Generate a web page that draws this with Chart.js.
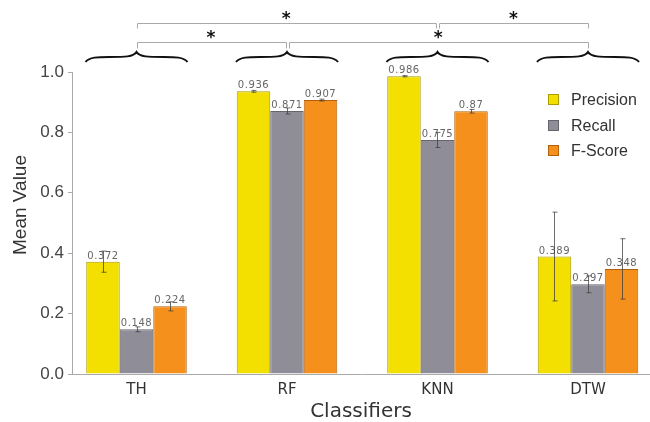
<!DOCTYPE html>
<html lang="en">
<head>
    <meta charset="UTF-8">
    <title>Classifiers - Mean Value</title>
    <script src="https://cdn.jsdelivr.net/npm/chart.js@4.4.0/dist/chart.umd.min.js"></script>
    <style>
        body { margin: 0; background: #fff; }
    </style>
</head>
<body>
<canvas id="barChart" width="650" height="422"></canvas>
<script>
    // data
    const classifiers = ['TH', 'RF', 'KNN', 'DTW'];
    const precision = [0.372, 0.936, 0.986, 0.389];
    const recall = [0.148, 0.871, 0.775, 0.297];
    const fScore = [0.224, 0.907, 0.87, 0.348];
    const precisionErr = [0.035, 0.003, 0.002, 0.147];
    const recallErr = [0.008, 0.01, 0.025, 0.028];
    const fScoreErr = [0.015, 0.003, 0.006, 0.1];
    const yTicks = [0, 0.2, 0.4, 0.6, 0.8, 1.0];
    // significance brackets: [from, to, row]
    const comparisons = [[0, 2, 0], [2, 3, 0], [0, 1, 1], [1, 3, 1]];

    const fills = ['#f3df00', '#8f8e98', '#f6901d'];
    const borders = ['#a99b00', '#66656c', '#b0600f'];
    const errors = [precisionErr, recallErr, fScoreErr];

    function points(arr) {
        return arr.map((v, i) => ({x: i, y: v}));
    }

    // annotations: value labels, error bars, braces, brackets, legend, y title
    const extras = {
        id: 'extras',
        afterDatasetsDraw(chart) {
            const ctx = chart.ctx;
            const xs = chart.scales.x;
            const ys = chart.scales.y;
            ctx.save();

            // value labels
            ctx.font = '10px "DejaVu Sans"';
            ctx.letterSpacing = '0.6px';
            ctx.fillStyle = '#666';
            ctx.textAlign = 'center';
            ctx.textBaseline = 'alphabetic';
            chart.data.datasets.forEach((ds, d) => {
                chart.getDatasetMeta(d).data.forEach((bar, i) => {
                    ctx.fillText(String(ds.data[i].y), bar.x, bar.y - 3);
                });
            });
            ctx.letterSpacing = '0px';

            // error bars
            ctx.strokeStyle = 'rgba(60,60,60,0.75)';
            ctx.lineWidth = 1;
            chart.data.datasets.forEach((ds, d) => {
                chart.getDatasetMeta(d).data.forEach((bar, i) => {
                    const v = ds.data[i].y, e = errors[d][i];
                    const x = Math.round(bar.x) + 0.5;
                    const y1 = ys.getPixelForValue(v + e);
                    const y2 = ys.getPixelForValue(v - e);
                    ctx.beginPath();
                    ctx.moveTo(x, y1);
                    ctx.lineTo(x, y2);
                    ctx.moveTo(x - 2, y1);
                    ctx.lineTo(x + 3, y1);
                    ctx.moveTo(x - 2, y2);
                    ctx.lineTo(x + 3, y2);
                    ctx.stroke();
                });
            });

            // curly braces over each group
            ctx.strokeStyle = '#111';
            ctx.lineWidth = 2;
            classifiers.forEach((c, i) => {
                const cx = xs.getPixelForValue(i);
                const x0 = cx - 51, x1 = cx + 51;
                const yb = 62, ym = 57, yt = 52;
                ctx.beginPath();
                ctx.moveTo(x0, yb);
                ctx.bezierCurveTo(x0 + 4, ym, x0 + 12, ym, x0 + 24, ym);
                ctx.bezierCurveTo(cx - 12, ym, cx - 3, ym, cx, yt);
                ctx.bezierCurveTo(cx + 3, ym, cx + 12, ym, x1 - 24, ym);
                ctx.bezierCurveTo(x1 - 12, ym, x1 - 4, ym, x1, yb);
                ctx.stroke();
            });

            // significance brackets
            const rowY = [23, 42];
            const rowDrop = [5, 6];
            ctx.strokeStyle = '#aaa';
            ctx.lineWidth = 1;
            ctx.fillStyle = '#111';
            ctx.font = 'bold 17px "DejaVu Sans"';
            comparisons.forEach(([a, b, r]) => {
                let xa = xs.getPixelForValue(a);
                let xb = xs.getPixelForValue(b);
                if (comparisons.some(o => o[2] === r && o[1] === a)) xa += 1.5;
                if (comparisons.some(o => o[2] === r && o[0] === b)) xb -= 1.5;
                const y = rowY[r] + 0.5;
                ctx.beginPath();
                ctx.moveTo(Math.round(xa) + 0.5, y + rowDrop[r]);
                ctx.lineTo(Math.round(xa) + 0.5, y);
                ctx.lineTo(Math.round(xb) + 0.5, y);
                ctx.lineTo(Math.round(xb) + 0.5, y + rowDrop[r]);
                ctx.stroke();
                const m = ctx.measureText('*');
                const cy = rowY[r] - 8;
                ctx.textBaseline = 'alphabetic';
                ctx.fillText('*', (xa + xb) / 2, cy + (m.actualBoundingBoxAscent - m.actualBoundingBoxDescent) / 2);
            });

            // legend
            const legendY = [100, 126, 151];
            ctx.font = '16px "Liberation Sans"';
            ctx.textAlign = 'left';
            ctx.textBaseline = 'middle';
            chart.data.datasets.forEach((ds, d) => {
                ctx.fillStyle = fills[d];
                ctx.fillRect(548, legendY[d] - 6, 11, 11);
                ctx.strokeStyle = borders[d];
                ctx.lineWidth = 1;
                ctx.strokeRect(548.5, legendY[d] - 5.5, 10, 10);
                ctx.fillStyle = '#333';
                ctx.fillText(ds.label, 571, legendY[d] + 1);
            });

            // y axis title
            ctx.translate(21, 205);
            ctx.rotate(-Math.PI / 2);
            ctx.textAlign = 'center';
            ctx.font = '19px "Liberation Sans"';
            ctx.fillStyle = '#333';
            ctx.fillText('Mean Value', 0, 0);
            ctx.restore();
        }
    };

    new Chart(document.getElementById('barChart').getContext('2d'), {
        type: 'bar',
        data: {
            datasets: [{
                label: 'Precision',
                data: points(precision),
                backgroundColor: fills[0],
                borderColor: borders[0],
                borderWidth: 1
            }, {
                label: 'Recall',
                data: points(recall),
                backgroundColor: fills[1],
                borderColor: borders[1],
                borderWidth: 1
            }, {
                label: 'F-Score',
                data: points(fScore),
                backgroundColor: fills[2],
                borderColor: borders[2],
                borderWidth: 1
            }]
        },
        options: {
            responsive: false,
            animation: false,
            devicePixelRatio: 1,
            layout: {padding: {top: 72, left: 0, right: 0, bottom: 0}},
            datasets: {
                bar: {barPercentage: 1, categoryPercentage: 0.668}
            },
            plugins: {
                legend: {display: false},
                tooltip: {enabled: false}
            },
            scales: {
                x: {
                    type: 'linear',
                    min: -0.4286,
                    max: 3.412,
                    offset: false,
                    grid: {display: false, drawTicks: false},
                    border: {color: '#aaa'},
                    ticks: {
                        stepSize: 1,
                        includeBounds: false,
                        autoSkip: false,
                        maxRotation: 0,
                        padding: 7,
                        color: '#333',
                        font: {family: 'DejaVu Sans', size: 15},
                        callback: v => classifiers[v] ?? ''
                    },
                    title: {
                        display: true,
                        text: 'Classifiers',
                        color: '#333',
                        font: {family: 'DejaVu Sans', size: 20, lineHeight: 1},
                        padding: {top: 0, bottom: 0}
                    },
                    afterFit: s => { s.height = 48; }
                },
                y: {
                    min: 0,
                    max: 1,
                    afterBuildTicks: s => { s.ticks = yTicks.map(v => ({value: v})); },
                    grid: {drawOnChartArea: false, tickLength: 4, color: '#aaa'},
                    border: {color: '#aaa'},
                    ticks: {
                        padding: 4,
                        color: '#444',
                        font: {family: 'Liberation Sans', size: 17},
                        callback: v => v.toFixed(1)
                    },
                    afterFit: s => { s.width = 72; }
                }
            }
        },
        plugins: [extras]
    });
</script>
</body>
</html>
